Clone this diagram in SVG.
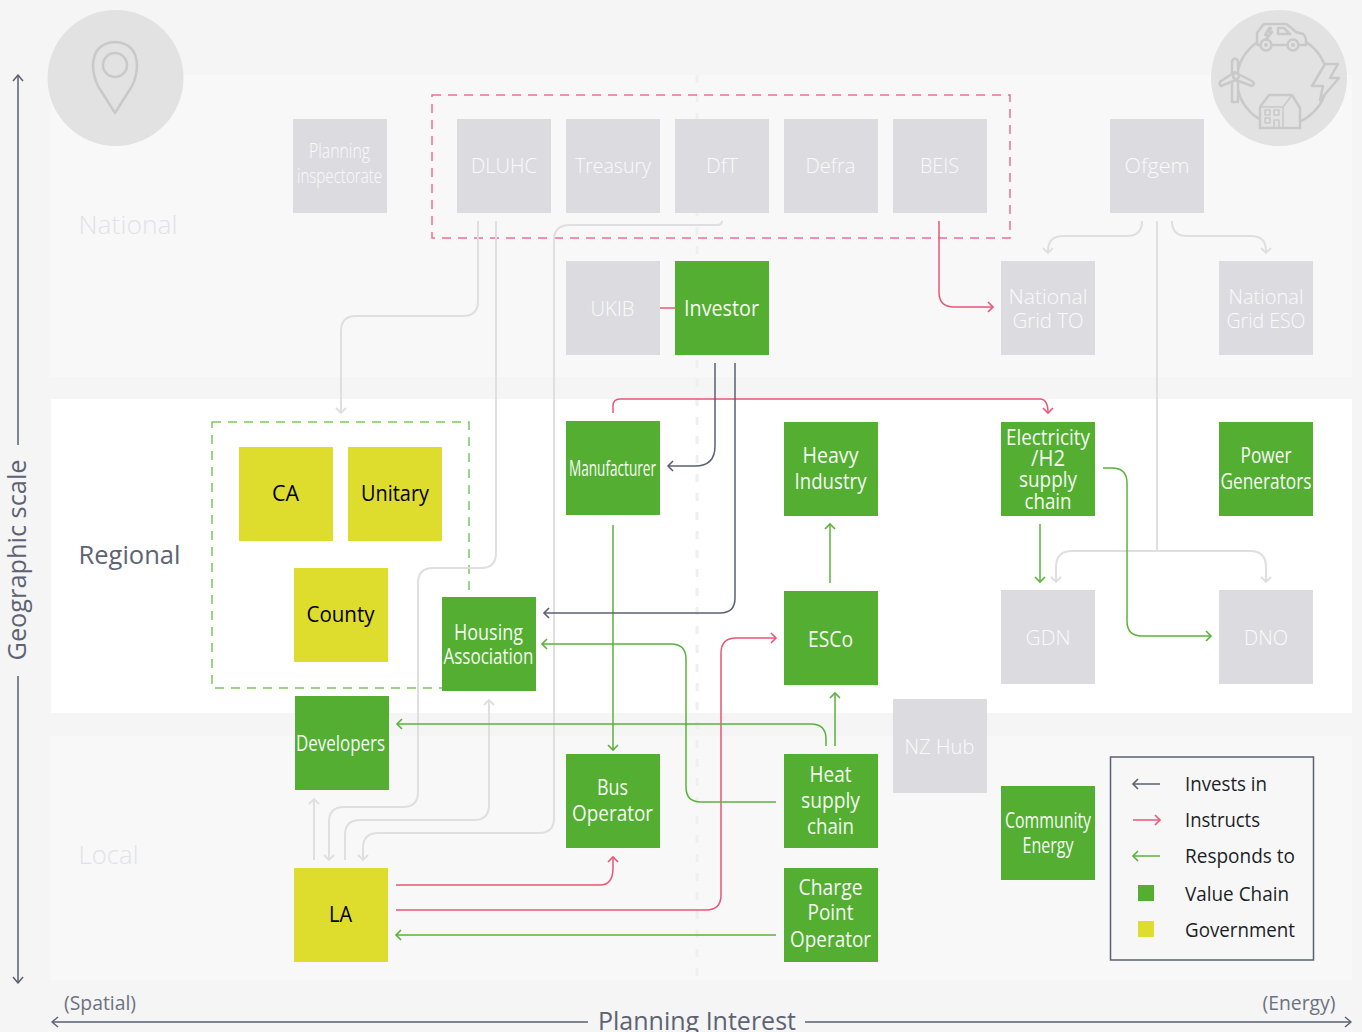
<svg xmlns="http://www.w3.org/2000/svg" width="1362" height="1032" viewBox="0 0 1362 1032">
<style>
text{font-family:"Open Sans","Noto Sans","Liberation Sans",sans-serif;font-size:21px;font-weight:300;text-anchor:middle}
.g rect{fill:#dcdce0}.g text{fill:#fafafb}
.v rect{fill:#53ae32}.v text{fill:#f6fbf3;font-weight:400}
.y rect{fill:#dedd2d}.y text{fill:#000;font-weight:400}
.c{fill:none;stroke-width:1.5;stroke-linejoin:round}
.cg{stroke:#dfdfe2;stroke-width:2}.cp{stroke:#ea5676}.cv{stroke:#5ab23a}.cd{stroke:#5a6072}
.ic{fill:#e2e2e2;stroke:#c9c9c9;stroke-width:2.5;stroke-linejoin:round}
text.l{text-anchor:start;fill:#1c1f26;font-size:20px;font-weight:400}
</style>
<defs>
<marker id="ag" markerUnits="userSpaceOnUse" markerWidth="14" markerHeight="14" refX="11" refY="6" orient="auto"><path d="M6 1L11 6L6 11" fill="none" stroke="#dfdfe2" stroke-width="1.8"/></marker>
<marker id="ap" markerUnits="userSpaceOnUse" markerWidth="14" markerHeight="14" refX="11" refY="6" orient="auto"><path d="M6 1L11 6L6 11" fill="none" stroke="#ea5676" stroke-width="1.6"/></marker>
<marker id="av" markerUnits="userSpaceOnUse" markerWidth="14" markerHeight="14" refX="11" refY="6" orient="auto"><path d="M6 1L11 6L6 11" fill="none" stroke="#5ab23a" stroke-width="1.6"/></marker>
<marker id="ad" markerUnits="userSpaceOnUse" markerWidth="14" markerHeight="14" refX="11" refY="6" orient="auto"><path d="M6 1L11 6L6 11" fill="none" stroke="#5a6072" stroke-width="1.6"/></marker>
</defs>
<rect width="1362" height="1032" fill="#f5f5f5"/>
<rect x="51" y="75" width="1301" height="302" fill="#f8f8f8"/>
<rect x="51" y="399" width="1301" height="314" fill="#fff"/>
<rect x="51" y="736" width="1301" height="244" fill="#f8f8f8"/>
<path d="M697 75V980" fill="none" stroke="#efefeb" stroke-width="3" stroke-dasharray="8 11"/>
<text x="128" y="234" style="font-size:26px;fill:#e2e2e6" textLength="99" lengthAdjust="spacingAndGlyphs">National</text>
<text x="129.500" y="564" style="font-size:26px;fill:#5d6372;font-weight:400" textLength="102" lengthAdjust="spacingAndGlyphs">Regional</text>
<text x="108.500" y="864" style="font-size:26px;fill:#e2e2e6" textLength="60" lengthAdjust="spacingAndGlyphs">Local</text>
<g id="axes">
<path class="c cd" d="M18 445V76M18 676V982M588 1022H52M805 1022H1351"/>
<path class="c cd" d="M13 81L18 75L23 81M13 977L18 983L23 977M58 1017L52 1022L58 1027M1345 1017L1351 1022L1345 1027"/>
<text x="18" y="560" transform="rotate(-90 18 560)" dy="8" style="font-size:26px;fill:#5d6372;font-weight:400" textLength="201" lengthAdjust="spacingAndGlyphs">Geographic scale</text>
<text x="697" y="1030" style="font-size:26px;fill:#5d6372;font-weight:400" textLength="198" lengthAdjust="spacingAndGlyphs">Planning Interest</text>
<text x="100" y="1010" style="font-size:20px;fill:#6d7280;font-weight:400" textLength="72" lengthAdjust="spacingAndGlyphs">(Spatial)</text>
<text x="1299" y="1010" style="font-size:20px;fill:#6d7280;font-weight:400" textLength="73" lengthAdjust="spacingAndGlyphs">(Energy)</text>
</g>
<g id="icon-location">
<circle cx="115.500" cy="78" r="68" fill="#e2e2e2"/>
<path class="ic" d="M115 113L98 86Q93 76 93 65Q94 43 115 42Q136 43 137 65Q137 76 132 86Z"/>
<circle class="ic" cx="115" cy="65" r="12"/>
</g>
<g id="icon-energy">
<circle cx="1279" cy="78" r="68" fill="#e2e2e2"/>
<circle cx="1282" cy="80" r="45" fill="none" stroke="#c9c9c9" stroke-width="2.500"/>
<path class="ic" d="M1257 41V33L1263 25Q1264 24 1266 24H1285Q1287 24 1289 26L1296 32L1303 34Q1306 36 1306 42V45H1258Q1257 45 1257 41Z"/>
<circle class="ic" cx="1266" cy="45" r="5.500"/><circle class="ic" cx="1293" cy="45" r="5.500"/>
<circle cx="1266" cy="45" r="2" fill="#c9c9c9"/><circle cx="1293" cy="45" r="2" fill="#c9c9c9"/>
<path class="ic" d="M1278 28H1284L1290 34H1278Z" stroke-width="2"/>
<path class="ic" d="M1269 28L1265 35H1268L1266 40L1272 32H1269L1271 28Z" stroke-width="1.500"/>
<path class="ic" d="M1232 61Q1235 56 1238 61V102H1232Z"/>
<path class="ic" d="M1235 72L1221 81Q1218 84 1221 86L1236 80ZM1238 74L1252 81Q1256 84 1252 86L1236 80Z"/>
<circle class="ic" cx="1236" cy="76" r="3"/>
<path class="ic" d="M1325 64H1338L1330 78H1339L1320 100L1323 86H1312Z"/>
<path class="ic" d="M1260 128V107L1269 95H1292L1300 108V128Z"/>
<path class="c" stroke="#c9c9c9" stroke-width="2.500" d="M1260 107H1283V128M1283 107L1292 95"/>
<path class="c" stroke="#c9c9c9" stroke-width="2" d="M1265 110h5v5h-5zM1274 110h5v5h-5zM1265 118h5v5h-5zM1274 128v-8h5v8"/>
</g>
<g id="groups">
<rect x="432" y="95" width="578" height="143" fill="none" stroke="#ee6d8a" stroke-width="1.500" stroke-dasharray="9 7"/>
<rect x="212" y="422" width="257" height="266" fill="none" stroke="#7cc660" stroke-width="1.500" stroke-dasharray="9 7"/>
</g>
<g id="connectors">
<path class="c cg" d="M478 221V301Q478 316 463 316H356Q341 316 341 331V413" marker-end="url(#ag)"/>
<path class="c cg" d="M496 221V553Q496 568 481 568H433Q418 568 418 583V792Q418 807 403 807H344Q329 807 329 822V860" marker-end="url(#ag)"/>
<path class="c cg" d="M722 221Q722 225 717 225H570Q554 225 554 240V818Q554 833 539 833H378Q363 833 363 848V860" marker-end="url(#ag)"/>
<path class="c cg" d="M345 860V835Q345 820 360 820H474Q489 820 489 805V700" marker-end="url(#ag)"/>
<path class="c cg" d="M314 860V799" marker-end="url(#ag)"/>
<path class="c cg" d="M1142 221Q1142 236 1127 236H1063Q1048 236 1048 251V253" marker-end="url(#ag)"/>
<path class="c cg" d="M1172 221Q1172 236 1187 236H1251Q1266 236 1266 251V253" marker-end="url(#ag)"/>
<path class="c cg" d="M1157 221V551"/>
<path class="c cg" d="M1157 551H1072Q1056 551 1056 567V582" marker-end="url(#ag)"/>
<path class="c cg" d="M1157 551H1250Q1266 551 1266 567V582" marker-end="url(#ag)"/>
<path class="c cp" d="M939 221V292Q939 307 954 307H993" marker-end="url(#ap)"/>
<path class="c cp" d="M660 308H675"/>
<path class="c cp" d="M613 413V406Q613 399 620 399H1040Q1048 399 1048 413" marker-end="url(#ap)"/>
<path class="c cp" d="M396 885H600Q613 885 613 868V857" marker-end="url(#ap)"/>
<path class="c cp" d="M396 910H706Q721 910 721 895V653Q721 638 736 638H776" marker-end="url(#ap)"/>
<path class="c cv" d="M830 583V524" marker-end="url(#av)"/>
<path class="c cv" d="M835 746V693" marker-end="url(#av)"/>
<path class="c cv" d="M826 746V739Q826 724 811 724H397" marker-end="url(#av)"/>
<path class="c cv" d="M776 802H701Q686 802 686 787V659Q686 644 671 644H542" marker-end="url(#av)"/>
<path class="c cv" d="M613 525V750" marker-end="url(#av)"/>
<path class="c cv" d="M1040 524V582" marker-end="url(#av)"/>
<path class="c cv" d="M1103 468H1112Q1127 468 1127 483V621Q1127 636 1142 636H1211" marker-end="url(#av)"/>
<path class="c cv" d="M776 935H396" marker-end="url(#av)"/>
<path class="c cd" d="M715 363V446Q715 466 695 466H668" marker-end="url(#ad)"/>
<path class="c cd" d="M735 363V598Q735 613 720 613H544" marker-end="url(#ad)"/>
</g>
<g id="n-planning" class="g"><rect x="293" y="119" width="94" height="94"/><text x="339.500" y="158" textLength="61" lengthAdjust="spacingAndGlyphs">Planning</text><text x="339.500" y="183" textLength="85" lengthAdjust="spacingAndGlyphs">inspectorate</text></g>
<g id="n-dluhc" class="g"><rect x="457" y="119" width="94" height="94"/><text x="504" y="173" textLength="66" lengthAdjust="spacingAndGlyphs">DLUHC</text></g>
<g id="n-treasury" class="g"><rect x="566" y="119" width="94" height="94"/><text x="613" y="173" textLength="76" lengthAdjust="spacingAndGlyphs">Treasury</text></g>
<g id="n-dft" class="g"><rect x="675" y="119" width="94" height="94"/><text x="722" y="173" textLength="32" lengthAdjust="spacingAndGlyphs">DfT</text></g>
<g id="n-defra" class="g"><rect x="784" y="119" width="94" height="94"/><text x="830.500" y="173" textLength="50" lengthAdjust="spacingAndGlyphs">Defra</text></g>
<g id="n-beis" class="g"><rect x="893" y="119" width="94" height="94"/><text x="939.500" y="173" textLength="39" lengthAdjust="spacingAndGlyphs">BEIS</text></g>
<g id="n-ofgem" class="g"><rect x="1110" y="119" width="94" height="94"/><text x="1157" y="173" textLength="65" lengthAdjust="spacingAndGlyphs">Ofgem</text></g>
<g id="n-ukib" class="g"><rect x="566" y="261" width="94" height="94"/><text x="612.500" y="316" textLength="44" lengthAdjust="spacingAndGlyphs">UKIB</text></g>
<g id="n-investor" class="v"><rect x="675" y="261" width="94" height="94"/><text x="721.500" y="316" textLength="75" lengthAdjust="spacingAndGlyphs">Investor</text></g>
<g id="n-grid-to" class="g"><rect x="1001" y="261" width="94" height="94"/><text x="1048" y="304" textLength="79" lengthAdjust="spacingAndGlyphs">National</text><text x="1048" y="328" textLength="71" lengthAdjust="spacingAndGlyphs">Grid TO</text></g>
<g id="n-grid-eso" class="g"><rect x="1219" y="261" width="94" height="94"/><text x="1266" y="304" textLength="75" lengthAdjust="spacingAndGlyphs">National</text><text x="1266" y="328" textLength="79" lengthAdjust="spacingAndGlyphs">Grid ESO</text></g>
<g id="n-manufacturer" class="v"><rect x="566" y="421" width="94" height="94"/><text x="612.500" y="476" textLength="87" lengthAdjust="spacingAndGlyphs">Manufacturer</text></g>
<g id="n-heavy" class="v"><rect x="784" y="422" width="94" height="94"/><text x="830.500" y="463" textLength="56" lengthAdjust="spacingAndGlyphs">Heavy</text><text x="830.500" y="489" textLength="72" lengthAdjust="spacingAndGlyphs">Industry</text></g>
<g id="n-elec" class="v"><rect x="1001" y="422" width="94" height="94"/><text x="1048" y="445" textLength="84" lengthAdjust="spacingAndGlyphs">Electricity</text><text x="1048" y="466" textLength="34" lengthAdjust="spacingAndGlyphs">/H2</text><text x="1048" y="487" textLength="58" lengthAdjust="spacingAndGlyphs">supply</text><text x="1048" y="509" textLength="47" lengthAdjust="spacingAndGlyphs">chain</text></g>
<g id="n-power" class="v"><rect x="1219" y="422" width="94" height="94"/><text x="1266" y="463" textLength="51" lengthAdjust="spacingAndGlyphs">Power</text><text x="1266" y="489" textLength="91" lengthAdjust="spacingAndGlyphs">Generators</text></g>
<g id="n-ca" class="y"><rect x="239" y="447" width="94" height="94"/><text x="285.500" y="501" textLength="27" lengthAdjust="spacingAndGlyphs">CA</text></g>
<g id="n-unitary" class="y"><rect x="348" y="447" width="94" height="94"/><text x="395" y="501" textLength="68" lengthAdjust="spacingAndGlyphs">Unitary</text></g>
<g id="n-county" class="y"><rect x="294" y="568" width="94" height="94"/><text x="340.500" y="622" textLength="68" lengthAdjust="spacingAndGlyphs">County</text></g>
<g id="n-housing" class="v"><rect x="442" y="597" width="94" height="94"/><text x="488.500" y="640" textLength="69" lengthAdjust="spacingAndGlyphs">Housing</text><text x="488.500" y="664" textLength="90" lengthAdjust="spacingAndGlyphs">Association</text></g>
<g id="n-gdn" class="g"><rect x="1001" y="590" width="94" height="94"/><text x="1048" y="645" textLength="45" lengthAdjust="spacingAndGlyphs">GDN</text></g>
<g id="n-dno" class="g"><rect x="1219" y="590" width="94" height="94"/><text x="1266" y="645" textLength="44" lengthAdjust="spacingAndGlyphs">DNO</text></g>
<g id="n-esco" class="v"><rect x="784" y="591" width="94" height="94"/><text x="830.500" y="647" textLength="45" lengthAdjust="spacingAndGlyphs">ESCo</text></g>
<g id="n-nzhub" class="g"><rect x="893" y="699" width="94" height="94"/><text x="939.500" y="754" textLength="70" lengthAdjust="spacingAndGlyphs">NZ Hub</text></g>
<g id="n-developers" class="v"><rect x="295" y="696" width="94" height="94"/><text x="340.500" y="751" textLength="89" lengthAdjust="spacingAndGlyphs">Developers</text></g>
<g id="n-bus" class="v"><rect x="566" y="754" width="94" height="94"/><text x="612.500" y="795" textLength="31" lengthAdjust="spacingAndGlyphs">Bus</text><text x="612.500" y="821" textLength="81" lengthAdjust="spacingAndGlyphs">Operator</text></g>
<g id="n-heat" class="v"><rect x="784" y="754" width="94" height="94"/><text x="830.500" y="782" textLength="42" lengthAdjust="spacingAndGlyphs">Heat</text><text x="830.500" y="808" textLength="59" lengthAdjust="spacingAndGlyphs">supply</text><text x="830.500" y="834" textLength="47" lengthAdjust="spacingAndGlyphs">chain</text></g>
<g id="n-community" class="v"><rect x="1001" y="786" width="94" height="94"/><text x="1048" y="828" textLength="86" lengthAdjust="spacingAndGlyphs">Community</text><text x="1048" y="853" textLength="51" lengthAdjust="spacingAndGlyphs">Energy</text></g>
<g id="n-la" class="y"><rect x="294" y="868" width="94" height="94"/><text x="340.500" y="922" textLength="23" lengthAdjust="spacingAndGlyphs">LA</text></g>
<g id="n-charge" class="v"><rect x="784" y="868" width="94" height="94"/><text x="830.500" y="895" textLength="64" lengthAdjust="spacingAndGlyphs">Charge</text><text x="830.500" y="920" textLength="46" lengthAdjust="spacingAndGlyphs">Point</text><text x="830.500" y="947" textLength="81" lengthAdjust="spacingAndGlyphs">Operator</text></g>
<g id="legend">
<rect x="1110.500" y="757" width="203" height="203" fill="#f7f7f8" stroke="#5a6072" stroke-width="1.500"/>
<path class="c cd" d="M1160 784H1133" marker-end="url(#ad)"/>
<path class="c cp" d="M1133 820H1160" marker-end="url(#ap)"/>
<path class="c cv" d="M1160 856H1133" marker-end="url(#av)"/>
<rect x="1138" y="885" width="16" height="16" fill="#53ae32"/>
<rect x="1138" y="921" width="16" height="16" fill="#dedd2d"/>
<text class="l" x="1185" y="791" textLength="82" lengthAdjust="spacingAndGlyphs">Invests in</text>
<text class="l" x="1185" y="827" textLength="75" lengthAdjust="spacingAndGlyphs">Instructs</text>
<text class="l" x="1185" y="863" textLength="110" lengthAdjust="spacingAndGlyphs">Responds to</text>
<text class="l" x="1185" y="901" textLength="104" lengthAdjust="spacingAndGlyphs">Value Chain</text>
<text class="l" x="1185" y="937" textLength="110" lengthAdjust="spacingAndGlyphs">Government</text>
</g>
</svg>
